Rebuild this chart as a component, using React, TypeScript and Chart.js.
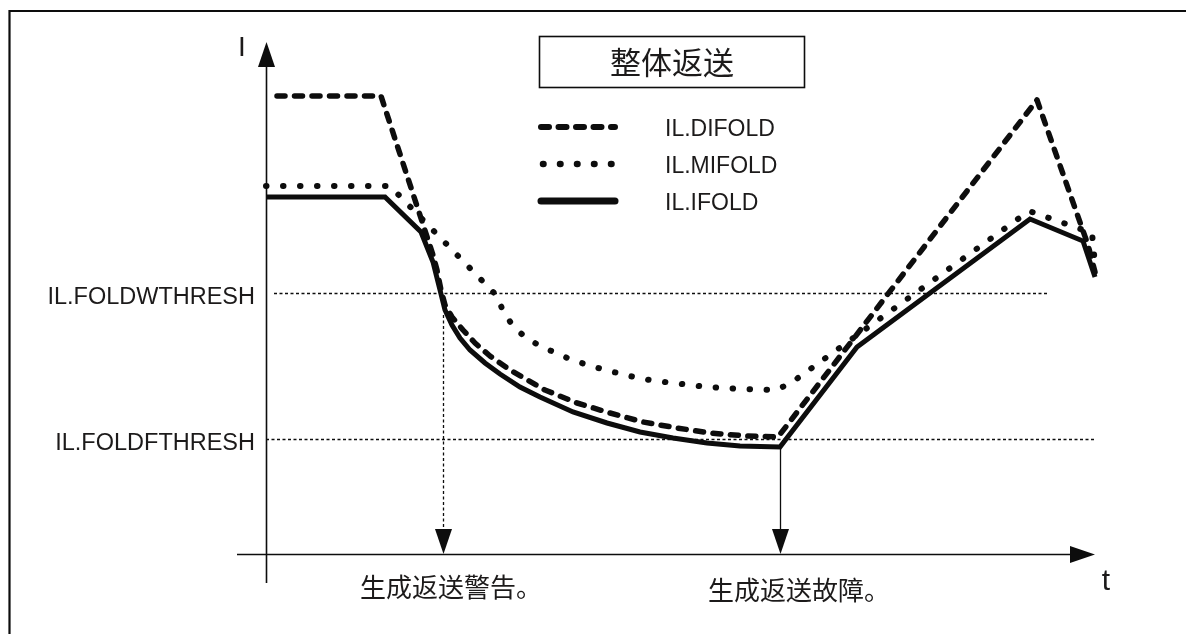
import { useEffect, useRef } from 'react';
import { Chart, registerables } from 'chart.js';

Chart.register(...registerables);

// Units of the drawing: t along the time axis, I along the current axis, origin where the axes cross.
const difoldT = [11, 115, 167, 171, 175, 179, 186, 197, 209, 224, 244, 279, 311, 344, 377, 411, 444, 481, 512, 771, 822, 829];
const difoldI = [458, 458, 299, 284, 264, 249, 237, 224, 211, 198, 184, 164, 151, 141, 132, 126, 121, 118, 117, 454, 309, 282];

const mifoldT = [0, 124, 231, 237, 247, 259, 274, 290, 306, 322, 339, 356, 372, 390, 407, 424, 441, 458, 475, 510, 525, 763, 826, 829];
const mifoldI = [368, 368, 258, 243, 228, 217, 208, 201, 194, 189, 184, 180, 176, 173, 171, 169, 167, 166, 165, 164, 171, 343, 321, 290];

const ifoldT = [0, 119, 155, 167, 174, 179, 186, 194, 204, 219, 234, 254, 274, 307, 341, 374, 407, 441, 474, 514, 591, 764, 817, 829];
const ifoldI = [357, 357, 322, 292, 264, 244, 229, 216, 204, 191, 180, 167, 157, 142, 131, 122, 116, 111, 108, 107, 207, 335, 313, 277];

const seriesNames = ['IL.DIFOLD', 'IL.MIFOLD', 'IL.IFOLD'];
const chartTitle = '整体返送';
const axisNames = ['t', 'I'];

const thresholdNames = ['IL.FOLDWTHRESH', 'IL.FOLDFTHRESH'];
const thresholdValues = [261, 115];
const thresholdStartT = [8, 0];
const thresholdEndT = [781, 829];

const eventNames = ['生成返送警告。', '生成返送故障。'];
const eventTimes = [177, 514];
const eventFromI = [239, 107];

const tMin = -266;
const tMax = 920;
const iMin = -80;
const iMax = 554;

const INK = '#0d0d0d';
const TEXT = '#1c1a1a';
const LATIN = '"Liberation Sans", Arial, sans-serif';
const CJK = '"Noto Sans CJK SC", "Noto Sans", sans-serif';

const toPoints = (ts: number[], is: number[]) => ts.map((t, k) => ({ x: t, y: is[k] }));

function arrowHead(ctx: CanvasRenderingContext2D, tipX: number, tipY: number, dir: 'up' | 'down' | 'right') {
  const len = 25;
  const half = 8.5;
  ctx.beginPath();
  ctx.moveTo(tipX, tipY);
  if (dir === 'up') {
    ctx.lineTo(tipX - half, tipY + len);
    ctx.lineTo(tipX + half, tipY + len);
  } else if (dir === 'down') {
    ctx.lineTo(tipX - half, tipY - len);
    ctx.lineTo(tipX + half, tipY - len);
  } else {
    ctx.lineTo(tipX - len, tipY - half);
    ctx.lineTo(tipX - len, tipY + half);
  }
  ctx.closePath();
  ctx.fill();
}

const diagramPlugin = {
  id: 'diagram',
  beforeDatasetsDraw(chart: any) {
    const { ctx } = chart;
    const xs = chart.scales.x;
    const ys = chart.scales.y;
    const X = (t: number) => xs.getPixelForValue(t);
    const Y = (v: number) => ys.getPixelForValue(v);
    ctx.save();
    ctx.fillStyle = INK;
    ctx.strokeStyle = INK;

    // outer frame
    ctx.lineWidth = 2.2;
    ctx.setLineDash([]);
    ctx.beginPath();
    ctx.moveTo(9.5, chart.height + 5);
    ctx.lineTo(9.5, 11);
    ctx.lineTo(chart.width + 5, 11);
    ctx.stroke();

    // threshold guide lines
    ctx.lineWidth = 1.3;
    ctx.setLineDash([3, 2.5]);
    thresholdValues.forEach((v, k) => {
      const py = Math.round(Y(v)) + 0.5;
      ctx.beginPath();
      ctx.moveTo(X(thresholdStartT[k]), py);
      ctx.lineTo(X(thresholdEndT[k]), py);
      ctx.stroke();
    });

    // event drop lines
    eventTimes.forEach((t, k) => {
      const px = Math.round(X(t)) + 0.5;
      ctx.setLineDash(k === 0 ? [3, 2.5] : []);
      ctx.lineWidth = 1.3;
      ctx.beginPath();
      ctx.moveTo(px, Y(eventFromI[k]));
      ctx.lineTo(px, Y(0) - 20);
      ctx.stroke();
      ctx.setLineDash([]);
      arrowHead(ctx, px, Y(0), 'down');
    });

    // axes
    ctx.setLineDash([]);
    ctx.lineWidth = 1.6;
    const ox = Math.round(X(0)) + 0.5;
    const oy = Math.round(Y(0)) + 0.5;
    ctx.beginPath();
    ctx.moveTo(X(-29), oy);
    ctx.lineTo(X(829) - 20, oy);
    ctx.moveTo(ox, Y(-29));
    ctx.lineTo(ox, Y(512) + 20);
    ctx.stroke();
    arrowHead(ctx, X(829), oy, 'right');
    arrowHead(ctx, ox, Y(512), 'up');
    ctx.restore();
  },
  afterDatasetsDraw(chart: any) {
    const { ctx } = chart;
    const xs = chart.scales.x;
    const ys = chart.scales.y;
    const X = (t: number) => xs.getPixelForValue(t);
    const Y = (v: number) => ys.getPixelForValue(v);
    ctx.save();
    ctx.fillStyle = TEXT;

    // threshold labels
    ctx.font = `23.5px ${LATIN}`;
    ctx.textAlign = 'right';
    ctx.textBaseline = 'middle';
    thresholdValues.forEach((v, k) => {
      ctx.fillText(thresholdNames[k], X(-11), Y(v) + 5);
    });

    // event labels
    ctx.font = `26px ${CJK}`;
    ctx.textAlign = 'left';
    const eventShift = [-83, -72];
    const eventY = [587, 590];
    eventTimes.forEach((t, k) => {
      ctx.fillText(eventNames[k], X(t) + eventShift[k], eventY[k]);
    });

    // axis names
    ctx.textAlign = 'center';
    ctx.font = `30px ${LATIN}`;
    ctx.fillText(axisNames[0], 1106, 582);
    ctx.font = `28px ${LATIN}`;
    ctx.fillText(axisNames[1], 242, 48);

    // title box
    ctx.strokeStyle = INK;
    ctx.lineWidth = 1.6;
    ctx.strokeRect(539.5, 36.5, 265, 51);
    ctx.font = `31px ${CJK}`;
    ctx.fillText(chartTitle, 672, 62);

    // legend
    const rows = [127, 164, 201];
    chart.data.datasets.forEach((ds: any, k: number) => {
      const y0 = rows[k];
      ctx.save();
      ctx.strokeStyle = ds.borderColor;
      ctx.lineWidth = ds.borderWidth + (k === 2 ? 2 : 0.5);
      ctx.lineCap = k === 2 ? 'round' : ds.borderCapStyle;
      ctx.setLineDash(ds.borderDash || []);
      ctx.beginPath();
      ctx.moveTo(k === 1 ? 543 : 541, y0);
      ctx.lineTo(615, y0);
      ctx.stroke();
      ctx.restore();
      ctx.font = `23px ${LATIN}`;
      ctx.textAlign = 'left';
      ctx.textBaseline = 'middle';
      ctx.fillStyle = TEXT;
      ctx.fillText(ds.label, 665, y0 + 3);
    });
    ctx.restore();
  },
};

export default function App() {
  const ref = useRef<HTMLCanvasElement | null>(null);
  useEffect(() => {
    document.body.style.margin = '0';
    const canvas = ref.current;
    if (!canvas) return;
    const chart = new Chart(canvas, {
      type: 'line',
      data: {
        datasets: [
          {
            label: seriesNames[0],
            data: toPoints(difoldT, difoldI),
            borderColor: INK,
            borderWidth: 5.5,
            borderDash: [8, 9.5],
            borderCapStyle: 'round',
            borderJoinStyle: 'round',
            pointRadius: 0,
            tension: 0,
          },
          {
            label: seriesNames[1],
            data: toPoints(mifoldT, mifoldI),
            borderColor: INK,
            borderWidth: 6,
            borderDash: [0.5, 16.5],
            borderCapStyle: 'round',
            borderJoinStyle: 'round',
            pointRadius: 0,
            tension: 0,
          },
          {
            label: seriesNames[2],
            data: toPoints(ifoldT, ifoldI),
            borderColor: INK,
            borderWidth: 5,
            borderCapStyle: 'butt',
            borderJoinStyle: 'miter',
            pointRadius: 0,
            tension: 0,
          },
        ],
      },
      options: {
        animation: false,
        responsive: false,
        devicePixelRatio: 1,
        layout: { padding: 0 },
        plugins: { legend: { display: false }, tooltip: { enabled: false }, title: { display: false } },
        events: [],
        scales: {
          x: { type: 'linear', min: tMin, max: tMax, display: false },
          y: { type: 'linear', min: iMin, max: iMax, display: false },
        },
      } as any,
      plugins: [diagramPlugin],
    });
    return () => chart.destroy();
  }, []);
  return (
    <div style={{ position: 'absolute', left: 0, top: 0, width: 1186, height: 634, background: '#fff' }}>
      <canvas ref={ref} width={1186} height={634} style={{ display: 'block' }} />
    </div>
  );
}
